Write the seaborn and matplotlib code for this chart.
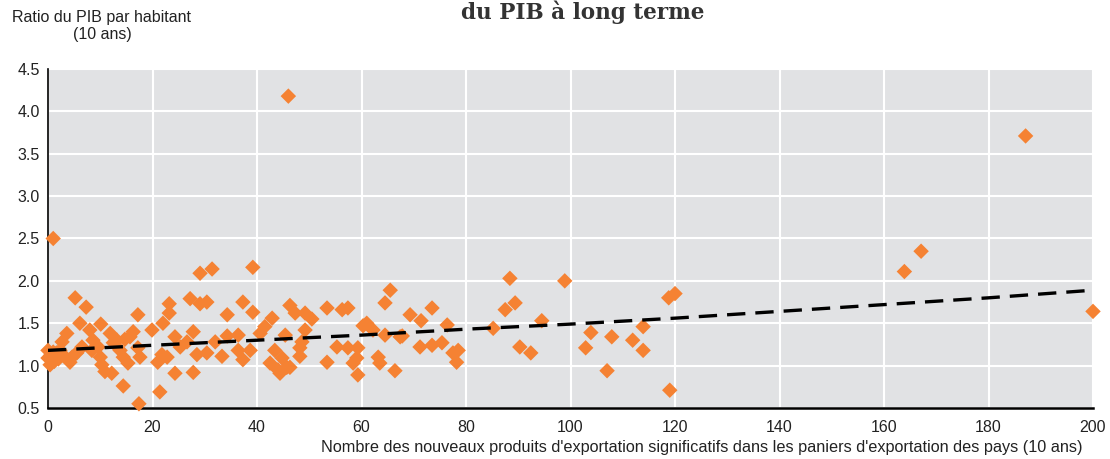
import numpy as np
import pandas as pd
import matplotlib
matplotlib.use("Agg")
import matplotlib.pyplot as plt
import seaborn as sns

# nombre de nouveaux produits d'exportation (10 ans) / ratio du PIB par habitant (10 ans)
nouveaux_produits = [
    0, 0, 0.4, 1, 2.3, 2.7, 3.6, 4.2, 4.6, 5.2, 5.5, 6.1, 6.5, 7.3, 8, 8.4, 8.6, 9.6,
    10, 10.1, 10.3, 10.9, 11.9, 12.2, 12.5, 13.2, 13.8, 14.4, 14.4, 14.7, 15.3, 15.7,
    16.3, 17.2, 17.2, 17.4, 17.6, 19.9, 21, 21.4, 21.8, 22, 22.8, 23.2, 23.2, 24.3,
    24.3, 25.3, 26.6, 27.2, 27.8, 27.8, 28.5, 29.1, 29.1, 30.4, 30.4, 31.4, 32, 33.3,
    34.3, 34.3, 36.4, 36.4, 37.3, 37.3, 38.7, 39.2, 39.2, 40.6, 41.5, 42.5, 42.9,
    43.4, 44, 44.4, 44.8, 45.4, 45.7, 46, 46.3, 46.3, 47.3, 48.2, 48.2, 48.6, 49.2,
    49.2, 50.5, 53.4, 53.4, 55.3, 56.3, 57.4, 57.4, 58.4, 59.1, 59.3, 59.3, 60.3, 61,
    62.2, 63.2, 63.5, 64.5, 64.5, 65.5, 66.4, 67.4, 67.8, 69.3, 71.2, 71.4, 73.5,
    73.5, 75.4, 76.4, 77.5, 78.2, 78.5, 85.2, 87.5, 88.4, 89.4, 90.3, 92.4, 94.5,
    98.9, 102.9, 103.9, 107, 107.9, 111.9, 113.9, 113.9, 118.8, 119, 120, 163.9,
    167.1, 187.1, 200,
    0.5, 1.2, 1.6, 2.0, 3.0, 1,
]
ratio_pib = [
    1.18, 1.09, 1.01, 2.50, 1.18, 1.28, 1.38, 1.04, 1.10, 1.80, 1.15, 1.50, 1.22, 1.69,
    1.42, 1.18, 1.30, 1.22, 1.10, 1.49, 1.01, 0.93, 1.38, 0.91, 1.27, 1.30, 1.18, 1.10,
    0.76, 1.31, 1.03, 1.34, 1.40, 1.60, 1.21, 0.55, 1.10, 1.42, 1.04, 0.69, 1.13,
    1.50, 1.10, 1.73, 1.62, 1.34, 0.91, 1.22, 1.28, 1.79, 1.40, 0.92, 1.13, 2.09,
    1.73, 1.75, 1.15, 2.14, 1.28, 1.11, 1.60, 1.35, 1.36, 1.18, 1.75, 1.07, 1.18,
    2.16, 1.63, 1.38, 1.46, 1.03, 1.56, 1.18, 0.95, 0.91, 1.09, 1.36, 0.98, 4.18,
    1.71, 0.98, 1.62, 1.21, 1.11, 1.28, 1.62, 1.42, 1.55, 1.68, 1.04, 1.22, 1.66,
    1.68, 1.21, 1.03, 1.09, 1.21, 0.89, 1.47, 1.50, 1.42, 1.10, 1.03, 1.74, 1.36,
    1.89, 0.94, 1.34, 1.35, 1.60, 1.22, 1.53, 1.68, 1.24, 1.27, 1.48, 1.15, 1.04,
    1.18, 1.44, 1.66, 2.03, 1.74, 1.22, 1.15, 1.53, 2.00, 1.21, 1.39, 0.94, 1.34,
    1.30, 1.46, 1.18, 1.80, 0.71, 1.85, 2.11, 2.35, 3.71, 1.64,
    1.12, 1.05, 1.15, 1.08, 1.12, 1.16,
]

# courbe de tendance
tendance_x = [0, 20, 40, 60, 80, 100, 120, 140, 160, 180, 200]
tendance_y = [1.18, 1.24, 1.30, 1.36, 1.43, 1.49, 1.56, 1.64, 1.72, 1.80, 1.89]

df = pd.DataFrame({"x": nouveaux_produits, "y": ratio_pib})
df_tend = pd.DataFrame({"x": tendance_x, "y": tendance_y})

orange = "#f58233"
fond = "#e1e2e4"
sans = ["Liberation Sans", "DejaVu Sans"]

sns.set_style("white")
plt.rcParams["font.family"] = sans

fig = plt.figure(figsize=(11.1, 4.59), dpi=100)
ax = fig.add_axes([48 / 1110, 1 - 408 / 459, 1045 / 1110, 339 / 459])
ax.set_facecolor(fond)

sns.scatterplot(data=df, x="x", y="y", ax=ax, marker="D", s=62, color=orange,
                edgecolor="none", linewidth=0, clip_on=False, zorder=3)
sns.lineplot(data=df_tend, x="x", y="y", ax=ax, color="black", lw=2.4,
             dashes=False, zorder=4)
ax.lines[-1].set_dashes((5.5, 3))

ax.set_xlim(0, 200)
ax.set_ylim(0.5, 4.5)
ax.set_xticks(range(0, 201, 20))
ax.set_yticks(np.arange(0.5, 4.51, 0.5))
ax.set_yticklabels([f"{v:.1f}" for v in np.arange(0.5, 4.51, 0.5)])
ax.grid(True, color="white", lw=1.5)
ax.set_axisbelow(True)

for s in ["top", "right"]:
    ax.spines[s].set_visible(False)
ax.spines["left"].set_color("black")
ax.spines["left"].set_linewidth(1.2)
ax.spines["bottom"].set_color("black")
ax.spines["bottom"].set_linewidth(1.8)
ax.tick_params(axis="both", direction="in", length=5, width=1, colors="black",
               labelsize=11.5, labelcolor="#222222")
ax.tick_params(axis="x", pad=9)
ax.tick_params(axis="y", pad=6)

ax.set_xlabel("Nombre des nouveaux produits d'exportation significatifs dans les paniers "
              "d'exportation des pays (10 ans)", fontsize=11.7, color="#222222",
              ha="right")
ax.xaxis.set_label_coords(0.99, -0.093)
ax.set_ylabel("")

fig.text(102 / 1110, 1 - 10 / 459, "Ratio du PIB par habitant\n(10 ans)",
         ha="center", va="top", fontsize=11.5, color="#222222",
         multialignment="center", linespacing=1.15)

fig.text(583 / 1110, 1 - 1 / 459, "du PIB à long terme", ha="center",
         va="top", fontsize=15.5, fontweight="bold", family="DejaVu Serif",
         color="#333333")

fig.savefig("out.png", dpi=100)
